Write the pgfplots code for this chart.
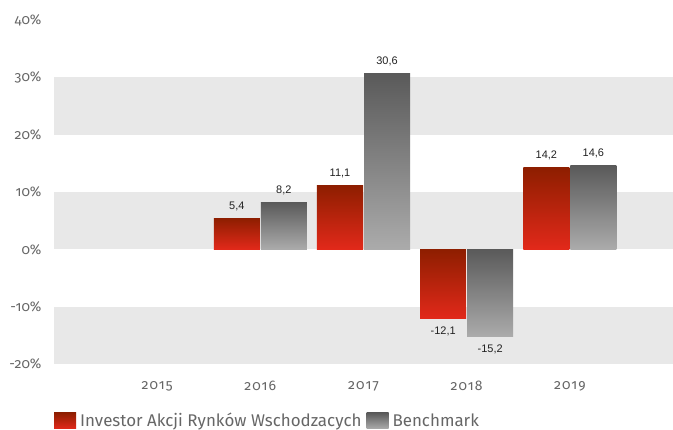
\documentclass[border=0pt]{standalone}
\usepackage{fontspec}
\setmainfont{Fira Sans}[Numbers=OldStyle]
\newfontfamily\labelfont{Liberation Sans}
\usepackage{pgfplots}
\pgfplotsset{compat=1.18}
\definecolor{band}{HTML}{E8E8E8}
\definecolor{redtop}{HTML}{8E1E00}
\definecolor{redbot}{HTML}{E2291A}
\definecolor{graytop}{HTML}{5A5A5A}
\definecolor{graybot}{HTML}{ABABAB}
\definecolor{ticktext}{HTML}{666666}
\definecolor{valtext}{HTML}{222222}
\pgfplotsset{
  redbar/.style={ybar, bar width=46bp, bar shift=-23.5bp, draw=none, top color=redtop, bottom color=redbot, forget plot,
    every node near coord/.append style={xshift=-23.5bp}},
  graybar/.style={ybar, bar width=46bp, bar shift=23.5bp, draw=none, top color=graytop, bottom color=graybot, forget plot,
    every node near coord/.append style={xshift=23.5bp}},
}
\begin{document}
\begin{tikzpicture}
\path[use as bounding box] (0,0) rectangle (673bp,430bp);
\begin{axis}[
  at={(54bp,66bp)}, anchor=south west,
  scale only axis, width=619bp, height=344bp,
  xmin=-1, xmax=5, ymin=-20, ymax=40,
  axis line style={draw=none},
  major tick length=0pt,
  xtick={0,1,2,3,4}, xticklabels={2015,2016,2017,2018,2019},
  xtick pos=bottom, ytick pos=left,
  ytick={-20,-10,0,10,20,30,40},
  /pgf/number format/assume math mode=true,
  yticklabel={\pgfmathprintnumber{\tick}\%},
  ticklabel style={font=\fontsize{14}{16}\selectfont, text=ticktext},
  yticklabel style={xshift=-9bp},
  xticklabel style={yshift=-14bp, font=\fontsize{14}{16}\selectfont\addfontfeature{LetterSpace=8}},
  nodes near coords={\pgfmathprintnumber[use comma,fixed,fixed zerofill,precision=1]{\pgfplotspointmeta}},
  every node near coord/.append style={font=\labelfont\fontsize{11}{13}\selectfont, text=valtext, inner sep=8bp, text height=8bp, text depth=1bp},
  legend columns=2,
  legend style={draw=none, fill=none, at={(0,-0.165)}, anchor=west, inner xsep=0pt,
    font=\fontsize{17}{19}\selectfont, text=ticktext,
    /tikz/every odd column/.append style={column sep=2bp},
    /tikz/every even column/.append style={column sep=3bp}},
  legend image code/.code={\path[#1] (0bp,-8bp) rectangle (22bp,8bp);},
]
\fill[band] (axis cs:-1,20) rectangle (axis cs:5,30);
\fill[band] (axis cs:-1,0) rectangle (axis cs:5,10);
\fill[band] (axis cs:-1,-20) rectangle (axis cs:5,-10);
\addlegendimage{draw=none, top color=redtop, bottom color=redbot}
\addlegendentry{Investor Akcji Rynków Wschodzacych}
\addlegendimage{draw=none, top color=graytop, bottom color=graybot}
\addlegendentry{Benchmark}
% Investor Akcji Rynkow Wschodzacych
\addplot[redbar] coordinates {(1,5.4)};
\addplot[redbar] coordinates {(2,11.1)};
\addplot[redbar] coordinates {(3,-12.1)};
\addplot[redbar] coordinates {(4,14.2)};
% Benchmark
\addplot[graybar] coordinates {(1,8.2)};
\addplot[graybar] coordinates {(2,30.6)};
\addplot[graybar] coordinates {(3,-15.2)};
\addplot[graybar] coordinates {(4,14.6)};
\end{axis}
\end{tikzpicture}
\end{document}
